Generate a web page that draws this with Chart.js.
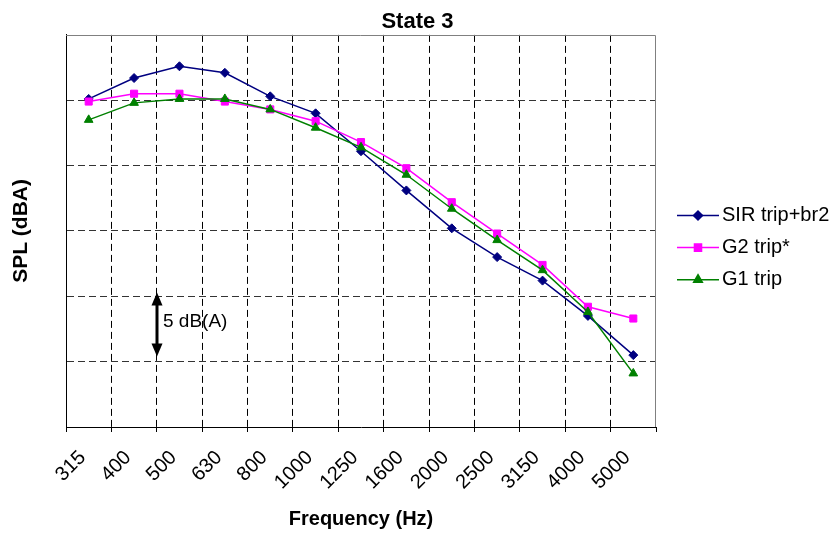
<!DOCTYPE html>
<html>
<head>
<meta charset="utf-8">
<script src="https://cdn.jsdelivr.net/npm/chart.js@4.4.0/dist/chart.umd.min.js"></script>
<style>
  html, body { margin: 0; padding: 0; background: #fff; }
  #wrap { width: 835px; height: 534px; }
</style>
</head>
<body>
<div id="wrap"><canvas id="spl"></canvas></div>
<script>
// 1/3 octave bands
const freqs = ['315', '400', '500', '630', '800', '1000', '1250', '1600', '2000', '2500', '3150', '4000', '5000']

// SPL readings, relative scale (dB)
const sirTrip = [25.1, 26.7, 27.6, 27.1, 25.3, 24.0, 21.1, 18.1, 15.2, 13.0, 11.2, 8.5, 5.5]
const g2Trip = [24.9, 25.5, 25.5, 24.9, 24.3, 23.4, 21.8, 19.8, 17.2, 14.8, 12.4, 9.2, 8.3]
const g1Trip = [23.5, 24.8, 25.1, 25.1, 24.3, 22.9, 21.4, 19.3, 16.7, 14.3, 12.0, 8.8, 4.1]

const seriesNames = ['SIR trip+br2', 'G2 trip*', 'G1 trip']
const seriesColors = ['#000080', '#FF00FF', '#008000']
const seriesPoints = ['rectRot', 'rect', 'triangle']

// scale marker (double arrow) drawn between 400 and 500 Hz
const arrowSpan = [5.4, 10.3]
const arrowLabel = '5 dB(A)'

const FONT = 'Liberation Sans, Arial, sans-serif'
const NONE = 'rgba(0,0,0,0)'

const extras = {
    id: 'extras',
    beforeDatasetsDraw(chart) {
        // grey frame on top / right like excel
        const { ctx, chartArea: a } = chart
        ctx.save()
        ctx.strokeStyle = '#808080'
        ctx.lineWidth = 1
        ctx.setLineDash([])
        ctx.beginPath()
        ctx.moveTo(a.left, Math.round(a.top) + 0.5)
        ctx.lineTo(Math.round(a.right) - 0.5, Math.round(a.top) + 0.5)
        ctx.lineTo(Math.round(a.right) - 0.5, a.bottom)
        ctx.stroke()
        ctx.restore()
    },
    afterDraw(chart) {
        const { ctx } = chart
        const xs = chart.scales.x
        const ys = chart.scales.y

        // arrow
        const x = Math.round(xs.getPixelForValue(1.5))
        const yTop = ys.getPixelForValue(arrowSpan[1])
        const yBot = ys.getPixelForValue(arrowSpan[0])
        ctx.save()
        ctx.fillStyle = '#000'
        ctx.strokeStyle = '#000'
        ctx.lineWidth = 3
        ctx.beginPath()
        ctx.moveTo(x, yTop + 10)
        ctx.lineTo(x, yBot - 10)
        ctx.stroke()
        ctx.beginPath()
        ctx.moveTo(x, yTop)
        ctx.lineTo(x - 5.5, yTop + 13)
        ctx.lineTo(x + 5.5, yTop + 13)
        ctx.closePath()
        ctx.fill()
        ctx.beginPath()
        ctx.moveTo(x, yBot)
        ctx.lineTo(x - 5.5, yBot - 13)
        ctx.lineTo(x + 5.5, yBot - 13)
        ctx.closePath()
        ctx.fill()
        ctx.font = '19px ' + FONT
        ctx.textAlign = 'left'
        ctx.textBaseline = 'middle'
        ctx.fillText(arrowLabel, x + 6, (yTop + yBot) / 2 - 3)
        ctx.restore()

        // legend
        ctx.save()
        seriesNames.forEach((name, i) => {
            const y = 215.5 + i * 32.1
            ctx.strokeStyle = seriesColors[i]
            ctx.fillStyle = seriesColors[i]
            ctx.lineWidth = 1.5
            ctx.beginPath()
            ctx.moveTo(677, y)
            ctx.lineTo(719, y)
            ctx.stroke()
            Chart.helpers.drawPoint(ctx, { pointStyle: seriesPoints[i], radius: i == 0 ? 4.5 : 5, borderWidth: 1 }, 698, y)
            ctx.fillStyle = '#000'
            ctx.font = '20px ' + FONT
            ctx.textAlign = 'left'
            ctx.textBaseline = 'middle'
            ctx.fillText(name, 722, y)
        })
        ctx.restore()
    }
}

const sets = [sirTrip, g2Trip, g1Trip].map((d, i) => ({
    label: seriesNames[i],
    data: d,
    borderColor: seriesColors[i],
    backgroundColor: seriesColors[i],
    borderWidth: 1.5,
    pointStyle: seriesPoints[i],
    pointRadius: i == 0 ? 4.5 : 5,
    pointBorderWidth: 1,
    tension: 0,
    order: 3 - i
}))

new Chart(document.getElementById('spl'), {
    type: 'line',
    data: { labels: freqs, datasets: sets },
    plugins: [extras],
    options: {
        responsive: true,
        maintainAspectRatio: false,
        animation: false,
        events: [],
        layout: { padding: 0 },
        plugins: {
            legend: { display: false },
            tooltip: { enabled: false },
            title: {
                display: true,
                text: 'State 3',
                color: '#000',
                font: { family: FONT, size: 22, weight: 'bold' },
                padding: { top: 8.5, bottom: 0 }
            }
        },
        scales: {
            x: {
                offset: true,
                grid: {
                    offset: true,
                    // last line is the grey frame, drawn by the plugin
                    color: c => c.type === 'tick' ? '#000' : NONE,
                    lineWidth: 1,
                    tickLength: 5,
                    tickColor: '#000'
                },
                border: { color: '#000', dash: [7, 4] },
                ticks: {
                    color: '#000',
                    font: { family: FONT, size: 20 },
                    minRotation: 45,
                    maxRotation: 45,
                    autoSkip: false,
                    padding: 14,
                    labelOffset: -6
                },
                title: {
                    display: true,
                    text: 'Frequency (Hz)',
                    color: '#000',
                    font: { family: FONT, size: 20, weight: 'bold' },
                    padding: { top: 0, bottom: 3 }
                },
                afterFit(s) { s.height = 107 }
            },
            y: {
                min: 0,
                max: 30,
                ticks: { display: false, stepSize: 5 },
                grid: {
                    color: c => c.tick && c.tick.value === 30 ? NONE : '#333',
                    lineWidth: 1,
                    drawTicks: false
                },
                border: { color: '#000', dash: [7, 4] },
                title: {
                    display: true,
                    text: 'SPL (dBA)',
                    color: '#000',
                    font: { family: FONT, size: 21, weight: 'bold' },
                    padding: { top: 9, bottom: 0 }
                },
                afterFit(s) { s.width = 66 }
            },
            // empty axis, only keeps room for the legend
            y2: {
                position: 'right',
                grid: { display: false },
                ticks: { display: false },
                border: { display: false },
                afterFit(s) { s.width = 179 }
            }
        }
    }
})
</script>
</body>
</html>
